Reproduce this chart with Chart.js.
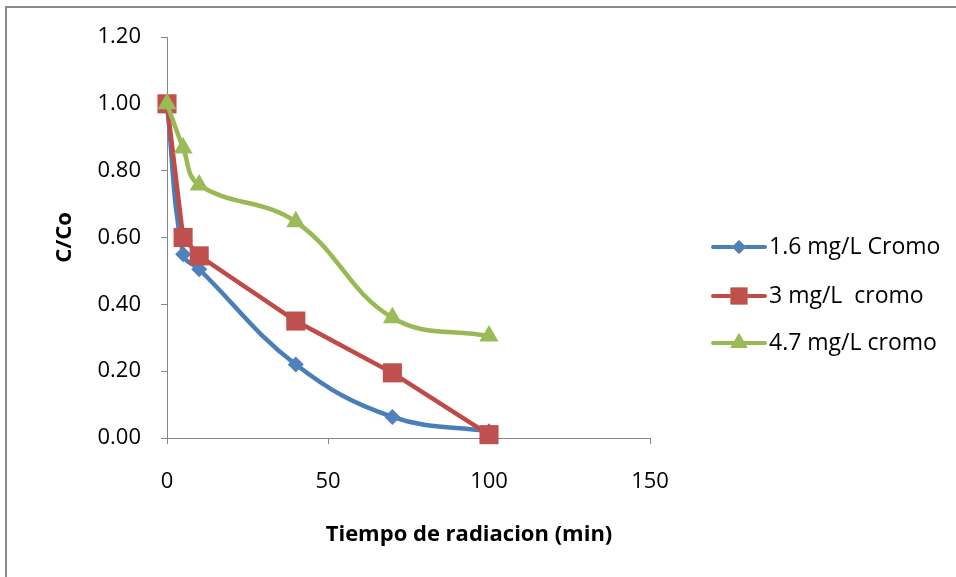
<!DOCTYPE html>
<html>
<head>
<meta charset="utf-8">
<script src="https://cdn.jsdelivr.net/npm/chart.js@4/dist/chart.umd.min.js"></script>
<style>
  html, body { margin: 0; padding: 0; background: #fff; }
  #wrap { position: relative; width: 956px; height: 577px; }
  #frame { position: absolute; left: 5px; top: 6px; right: 0; bottom: 0;
           border-top: 2px solid #8a8a8a; border-left: 2px solid #8a8a8a; pointer-events: none; }
</style>
</head>
<body>
<div id="wrap">
  <canvas id="c" width="956" height="577"></canvas>
  <div id="frame"></div>
</div>
<script>
const tiempo = [0, 5, 10, 40, 70, 100]
const cromo16 = [1.00, 0.55, 0.505, 0.22, 0.063, 0.02]
const cromo3 = [1.00, 0.60, 0.545, 0.35, 0.195, 0.01]
const cromo47 = [1.00, 0.868, 0.757, 0.647, 0.36, 0.305]
const labels = ['1.6 mg/L Cromo', '3 mg/L  cromo', '4.7 mg/L cromo']

const FONT = "'Open Sans', 'DejaVu Sans', sans-serif"
const AXIS = '#868686'

const pts = ys => tiempo.map((x, i) => ({ x: x, y: ys[i] }))

// legend drawn by hand at the right of the plot
const sideLegend = {
  id: 'sideLegend',
  afterDraw(chart) {
    const ctx = chart.ctx
    const rows = [247, 296, 343]
    chart.data.datasets.forEach((ds, i) => {
      const y = rows[i]
      ctx.save()
      ctx.strokeStyle = ds.borderColor
      ctx.lineWidth = 4
      ctx.lineCap = 'round'
      ctx.beginPath()
      ctx.moveTo(713, y)
      ctx.lineTo(765, y)
      ctx.stroke()
      Chart.helpers.drawPoint(ctx, {
        pointStyle: ds.pointStyle,
        radius: ds.legendRadius,
        rotation: 0,
        borderWidth: 0
      }, 739, y)
      ctx.fillStyle = ds.backgroundColor
      ctx.fill()
      ctx.fillStyle = '#000'
      ctx.font = '23px ' + FONT
      ctx.textBaseline = 'middle'
      ctx.textAlign = 'left'
      ctx.fillText(ds.label, 769, y)
      ctx.restore()
    })
    // x axis title
    ctx.save()
    ctx.fillStyle = '#000'
    ctx.font = 'bold 22px ' + FONT
    ctx.textAlign = 'center'
    ctx.textBaseline = 'middle'
    ctx.fillText('Tiempo de radiacion (min)', 469, 535)
    ctx.restore()
  }
}

new Chart(document.getElementById('c').getContext('2d'), {
  type: 'line',
  data: {
    datasets: [{
      label: labels[0],
      data: pts(cromo16),
      borderColor: '#4a7ebb',
      backgroundColor: '#4f81bd',
      borderWidth: 4.5,
      pointStyle: 'rectRot',
      pointRadius: 8,
      legendRadius: 7,
      pointBorderWidth: 0,
      tension: 0.4,
      clip: false,
      order: 2
    }, {
      label: labels[1],
      data: pts(cromo3),
      borderColor: '#be4b48',
      backgroundColor: '#c0504d',
      borderWidth: 4.5,
      pointStyle: 'rect',
      pointRadius: 13.5,
      legendRadius: 12,
      pointBorderWidth: 0,
      tension: 0,
      clip: false,
      order: 1
    }, {
      label: labels[2],
      data: pts(cromo47),
      borderColor: '#98b954',
      backgroundColor: '#9bbb59',
      borderWidth: 4.5,
      pointStyle: 'triangle',
      pointRadius: 11,
      legendRadius: 10,
      pointBorderWidth: 0,
      tension: 0.4,
      clip: false,
      order: 0
    }]
  },
  options: {
    responsive: false,
    animation: false,
    layout: { padding: { left: 0, top: 37, right: 306, bottom: 0 } },
    plugins: { legend: { display: false }, tooltip: { enabled: false } },
    scales: {
      x: {
        type: 'linear',
        min: 0,
        max: 150,
        afterFit: s => { s.height = 139 },
        border: { color: AXIS, width: 1 },
        grid: { drawOnChartArea: false, tickLength: 6, color: AXIS },
        ticks: { stepSize: 50, padding: 25, color: '#000', font: { family: FONT, size: 22 } }
      },
      y: {
        min: 0,
        max: 1.2,
        afterFit: s => { s.width = 167 },
        border: { color: AXIS, width: 1 },
        grid: { drawOnChartArea: false, tickLength: 6, color: AXIS },
        ticks: {
          stepSize: 0.2,
          padding: 20,
          color: '#000',
          font: { family: FONT, size: 22 },
          callback: v => v.toFixed(2)
        },
        title: {
          display: true,
          text: 'C/Co',
          color: '#000',
          font: { family: FONT, size: 22, weight: 'bold' },
          padding: { top: 52, bottom: 0 }
        }
      }
    }
  },
  plugins: [sideLegend]
})
</script>
</body>
</html>
